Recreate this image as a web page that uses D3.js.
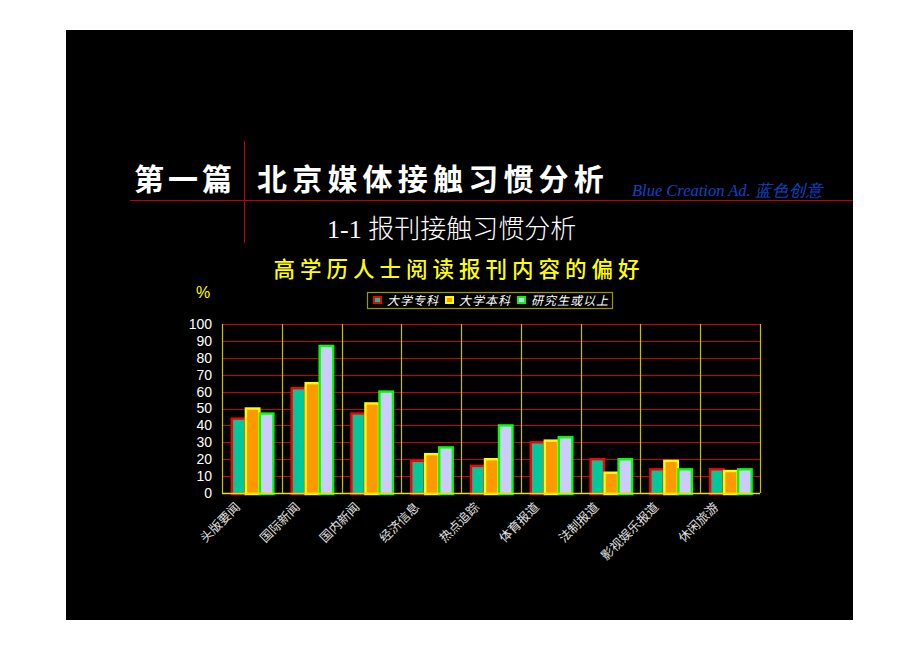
<!DOCTYPE html>
<html>
<head>
<meta charset="utf-8">
<script src="https://cdn.jsdelivr.net/npm/d3@7/dist/d3.min.js"></script>
<style>
  html, body { margin: 0; padding: 0; background: #fff; }
  svg { display: block; }
</style>
</head>
<body>
<svg id="chart" width="920" height="651"></svg>
<script>
// Data.
const categories = ["头版要闻", "国际新闻", "国内新闻", "经济信息", "热点追踪", "体育报道", "法制报道", "影视娱乐报道", "休闲旅游"];
const seriesNames = ["大学专科", "大学本科", "研究生或以上"];
const zhuanke = [44, 62, 47, 19, 16, 30, 20, 14, 14];
const benke = [50, 65, 53, 23, 20, 31, 12, 19, 13];
const yanjiusheng = [47, 87, 60, 27, 40, 33, 20, 14, 14];
const yTicks = [0, 10, 20, 30, 40, 50, 60, 70, 80, 90, 100];

const seriesValues = [zhuanke, benke, yanjiusheng];
const fills = ["#00c89a", "#ff9900", "#ccccff"];
const strokes = ["#ff0000", "#ffff00", "#00ff00"];

const svg = d3.select("#chart");
const CJK = "'Noto Sans CJK SC', 'Noto Sans', sans-serif";

// Black slide panel.
svg.append("rect").attr("x", 66).attr("y", 30).attr("width", 787).attr("height", 590).attr("fill", "#000");

// Header rules.
svg.append("line").attr("x1", 130).attr("x2", 853).attr("y1", 200.5).attr("y2", 200.5)
  .attr("stroke", "#c00000").attr("stroke-width", 1);
svg.append("line").attr("x1", 244.5).attr("x2", 244.5).attr("y1", 141).attr("y2", 243)
  .attr("stroke", "#c00000").attr("stroke-width", 1);

svg.append("text").attr("x", 134).attr("y", 190)
  .attr("font-family", CJK).attr("font-weight", 700).attr("font-size", 30)
  .attr("letter-spacing", 4).attr("fill", "#fff").text("第一篇");
svg.append("text").attr("x", 257).attr("y", 190)
  .attr("font-family", CJK).attr("font-weight", 700).attr("font-size", 30)
  .attr("letter-spacing", 5.2).attr("fill", "#fff").text("北京媒体接触习惯分析");
svg.append("text").attr("x", 632).attr("y", 196)
  .attr("font-family", "'Liberation Serif', serif").attr("font-style", "italic").attr("font-size", 16.5)
  .attr("fill", "#0a46c8").text("Blue Creation Ad. 蓝色创意");
svg.append("text").attr("x", 327).attr("y", 238)
  .attr("font-family", "'Liberation Serif', 'Noto Sans CJK SC', serif").attr("font-weight", 300).attr("font-size", 26)
  .attr("fill", "#fff").text("1-1 报刊接触习惯分析");

// Chart title and unit.
svg.append("text").attr("x", 459).attr("y", 277).attr("text-anchor", "middle")
  .attr("font-family", CJK).attr("font-weight", 500).attr("font-size", 21.5).attr("letter-spacing", 5)
  .attr("fill", "#ffff00").text("高学历人士阅读报刊内容的偏好");
svg.append("text").attr("x", 196).attr("y", 298)
  .attr("font-family", "'Liberation Sans', sans-serif").attr("font-size", 16)
  .attr("fill", "#ffff00").text("%");

// Plot area.
const plotL = 222, plotR = 760, plotT = 324, plotB = 493;
const x = d3.scaleBand().domain(categories).range([plotL, plotR]).paddingInner(0).paddingOuter(0);
const x1 = d3.scaleBand().domain(seriesNames).range([-21, 21]);
const y = d3.scaleLinear().domain([0, 100]).range([plotB, plotT]);

// Horizontal red gridlines.
svg.append("g").selectAll("line").data(yTicks.filter(d => d > 0)).join("line")
  .attr("x1", plotL).attr("x2", plotR)
  .attr("y1", d => Math.round(y(d)) + 0.5).attr("y2", d => Math.round(y(d)) + 0.5)
  .attr("stroke", "#cc0000").attr("stroke-width", 1.2);

// Vertical category dividers (right edge of every band).
svg.append("g").selectAll("line").data(categories).join("line")
  .attr("x1", d => Math.round(x(d) + x.bandwidth()) + 0.5)
  .attr("x2", d => Math.round(x(d) + x.bandwidth()) + 0.5)
  .attr("y1", plotT).attr("y2", plotB)
  .attr("stroke", "#c4c000").attr("stroke-width", 1.2);

// Bars.
const barData = [];
categories.forEach((c, ci) => {
  seriesNames.forEach((s, si) => barData.push({ c, s, si, v: seriesValues[si][ci] }));
});
svg.append("g").selectAll("rect").data(barData).join("rect")
  .attr("x", d => x(d.c) + x.bandwidth() / 2 + x1(d.s) + 1)
  .attr("width", x1.bandwidth() - 0.5)
  .attr("y", d => y(d.v))
  .attr("height", d => y(0) - y(d.v) + 1)
  .attr("fill", d => fills[d.si])
  .attr("stroke", d => strokes[d.si])
  .attr("stroke-width", 2.4);

// Axis lines.
svg.append("line").attr("x1", plotL + 0.5).attr("x2", plotL + 0.5).attr("y1", plotT).attr("y2", plotB + 1)
  .attr("stroke", "#c8c400").attr("stroke-width", 1.2);
svg.append("line").attr("x1", plotL).attr("x2", plotR).attr("y1", plotB + 0.5).attr("y2", plotB + 0.5)
  .attr("stroke", "#e8e400").attr("stroke-width", 1.4);

// Y tick labels.
const yAxis = d3.axisLeft(y).tickValues(yTicks).tickSize(0).tickPadding(10);
const gy = svg.append("g").attr("transform", `translate(${plotL},0)`).call(yAxis);
gy.select(".domain").remove();
gy.selectAll("text").attr("fill", "#fff").attr("font-family", "'Liberation Sans', sans-serif").attr("font-size", 14);

// X labels, rotated.
svg.append("g").selectAll("text").data(categories).join("text")
  .attr("transform", d => `translate(${x(d) + x.bandwidth() / 2 - 11},${plotB + 15}) rotate(-45)`)
  .attr("text-anchor", "end")
  .attr("font-family", CJK).attr("font-size", 12.5)
  .attr("fill", "#e0e0e0").text(d => d);

// Legend.
const lg = svg.append("g").attr("transform", "translate(367,292)");
lg.append("rect").attr("x", 0.5).attr("y", 0.5).attr("width", 245).attr("height", 16)
  .attr("fill", "#000").attr("stroke", "#9a9600").attr("stroke-width", 1.2);
const legendX = [6, 78, 150];
seriesNames.forEach((s, i) => {
  lg.append("rect").attr("x", legendX[i] + 1).attr("y", 5).attr("width", 7).attr("height", 6)
    .attr("fill", fills[i]).attr("stroke", strokes[i]).attr("stroke-width", 2);
  lg.append("text").attr("x", legendX[i] + 14).attr("y", 13)
    .attr("font-family", CJK).attr("font-style", "italic").attr("font-size", 12)
    .attr("letter-spacing", 1).attr("fill", "#fff").text(s);
});
</script>
</body>
</html>
